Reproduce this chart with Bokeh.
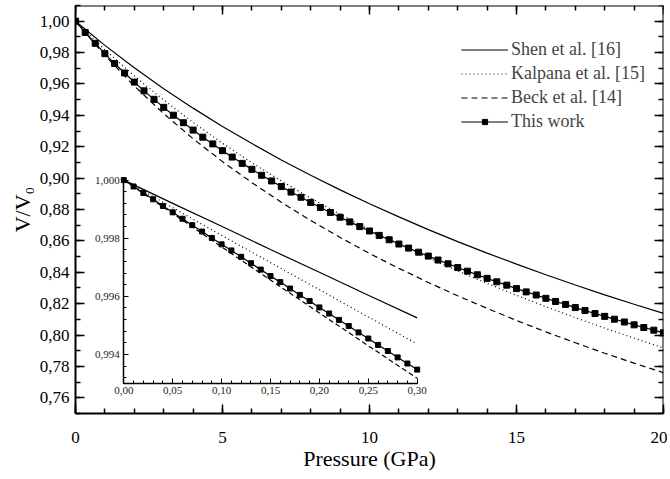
from bokeh.plotting import figure
from bokeh.models import (Range1d, LinearAxis, FixedTicker, CustomJSTickFormatter,
                          Legend, LegendItem)
from bokeh.embed import file_html
from bokeh.resources import INLINE

FONT = "Liberation Serif"

# ---------------- data ----------------
pressure_tw = [0.00, 0.33, 0.67, 1.00, 1.33, 1.67, 2.00, 2.33, 2.67, 3.00, 3.33, 3.67,
               4.00, 4.33, 4.67, 5.00, 5.33, 5.67, 6.00, 6.33, 6.67, 7.00, 7.33, 7.67,
               8.00, 8.33, 8.67, 9.00, 9.33, 9.67, 10.00, 10.33, 10.67, 11.00, 11.33,
               11.67, 12.00, 12.33, 12.67, 13.00, 13.33, 13.67, 14.00, 14.33, 14.67,
               15.00, 15.33, 15.67, 16.00, 16.33, 16.67, 17.00, 17.33, 17.67, 18.00,
               18.33, 18.67, 19.00, 19.33, 19.67, 20.00]
v_this_work = [1.0000, 0.9928, 0.9859, 0.9793, 0.9730, 0.9670, 0.9612, 0.9556, 0.9502,
               0.9451, 0.9401, 0.9353, 0.9306, 0.9261, 0.9218, 0.9175, 0.9134, 0.9094,
               0.9056, 0.9018, 0.8982, 0.8946, 0.8911, 0.8878, 0.8845, 0.8813, 0.8781,
               0.8751, 0.8721, 0.8691, 0.8663, 0.8635, 0.8607, 0.8580, 0.8554, 0.8528,
               0.8503, 0.8478, 0.8454, 0.8430, 0.8407, 0.8384, 0.8361, 0.8339, 0.8318,
               0.8296, 0.8275, 0.8255, 0.8234, 0.8214, 0.8195, 0.8175, 0.8156, 0.8137,
               0.8119, 0.8101, 0.8083, 0.8065, 0.8048, 0.8031, 0.8014]

pressure_lit = [0, 1, 2, 3, 4, 5, 6, 7, 8, 9, 10, 11, 12, 13, 14, 15, 16, 17, 18, 19, 20]
v_shen = [1.0000, 0.9846, 0.9703, 0.9570, 0.9446, 0.9329, 0.9220, 0.9116, 0.9018, 0.8925,
          0.8837, 0.8753, 0.8672, 0.8595, 0.8522, 0.8452, 0.8384, 0.8319, 0.8256, 0.8196,
          0.8138]
v_kalpana = [1.0000, 0.9818, 0.9651, 0.9497, 0.9355, 0.9222, 0.9098, 0.8982, 0.8873,
             0.8770, 0.8672, 0.8580, 0.8492, 0.8409, 0.8329, 0.8253, 0.8181, 0.8111,
             0.8044, 0.7980, 0.7918]
v_beck = [1.0000, 0.9782, 0.9587, 0.9411, 0.9251, 0.9105, 0.8971, 0.8846, 0.8730, 0.8622,
          0.8520, 0.8425, 0.8335, 0.8250, 0.8170, 0.8093, 0.8020, 0.7951, 0.7884, 0.7821,
          0.7760]

# inset (low pressure)
pressure_in_tw = [0.00, 0.01, 0.02, 0.03, 0.04, 0.05, 0.06, 0.07, 0.08, 0.09, 0.10, 0.11,
                  0.12, 0.13, 0.14, 0.15, 0.16, 0.17, 0.18, 0.19, 0.20, 0.21, 0.22, 0.23,
                  0.24, 0.25, 0.26, 0.27, 0.28, 0.29, 0.30]
v_in_this_work = [1.00000, 0.99978, 0.99956, 0.99934, 0.99911, 0.99889, 0.99867, 0.99845,
                  0.99823, 0.99801, 0.99779, 0.99758, 0.99736, 0.99714, 0.99692, 0.99670,
                  0.99649, 0.99627, 0.99605, 0.99584, 0.99562, 0.99541, 0.99519, 0.99498,
                  0.99476, 0.99455, 0.99433, 0.99412, 0.99390, 0.99369, 0.99348]
pressure_in_lit = [0.00, 0.05, 0.10, 0.15, 0.20, 0.25, 0.30]
v_in_shen = [1.00000, 0.99920, 0.99841, 0.99761, 0.99683, 0.99604, 0.99526]
v_in_kalpana = [1.00000, 0.99905, 0.99810, 0.99716, 0.99623, 0.99529, 0.99436]
v_in_beck = [1.00000, 0.99885, 0.99770, 0.99656, 0.99543, 0.99430, 0.99318]

# ticks
x_major = [0, 5, 10, 15, 20]
x_minor = [0, 1, 2, 3, 4, 5, 6, 7, 8, 9, 10, 11, 12, 13, 14, 15, 16, 17, 18, 19, 20]
y_major = [0.76, 0.78, 0.80, 0.82, 0.84, 0.86, 0.88, 0.90, 0.92, 0.94, 0.96, 0.98, 1.00]
y_minor = [0.75, 0.76, 0.77, 0.78, 0.79, 0.80, 0.81, 0.82, 0.83, 0.84, 0.85, 0.86, 0.87,
           0.88, 0.89, 0.90, 0.91, 0.92, 0.93, 0.94, 0.95, 0.96, 0.97, 0.98, 0.99, 1.00,
           1.01]
in_x_major = [0.00, 0.05, 0.10, 0.15, 0.20, 0.25, 0.30]
in_x_minor = pressure_in_tw
in_y_major = [0.994, 0.996, 0.998, 1.000]
in_y_minor = [0.9932, 0.9936, 0.9940, 0.9944, 0.9948, 0.9952, 0.9956, 0.9960, 0.9964,
              0.9968, 0.9972, 0.9976, 0.9980, 0.9984, 0.9988, 0.9992, 0.9996, 1.0000]

legend_labels = ["Shen et al. [16]", "Kalpana et al. [15]", "Beck et al. [14]", "This work"]

# ---------------- figure ----------------
p = figure(frame_width=588, frame_height=408,
           x_range=Range1d(0, 20), y_range=Range1d(0.75, 1.01),
           output_backend="svg", toolbar_location=None,
           min_border_left=75, min_border_right=4, min_border_top=5, min_border_bottom=10,
           x_axis_label="Pressure (GPa)", y_axis_label="V/V₀")
p.grid.visible = False
p.outline_line_color = None
p.background_fill_color = "white"

p.extra_x_ranges = {"ix": Range1d(-0.04939, 0.55184)}
p.extra_y_ranges = {"iy": Range1d(0.991970, 1.006007)}

xa = p.xaxis[0]
ya = p.yaxis[0]

comma2 = "return tick.toFixed(2).replace('.', ',');"
comma3 = "return tick.toFixed(3).replace('.', ',');"


def style_main(ax):
    ax.axis_line_width = 2
    ax.major_tick_in = 9
    ax.major_tick_out = 0
    ax.minor_tick_in = 5
    ax.minor_tick_out = 0
    ax.major_tick_line_width = 1.5
    ax.minor_tick_line_width = 1.5
    ax.major_label_text_font = FONT
    ax.major_label_text_font_size = "17px"
    ax.major_label_text_color = "black"
    ax.axis_label_text_font = FONT
    ax.axis_label_text_font_size = "22px"
    ax.axis_label_text_font_style = "normal"
    ax.axis_label_text_color = "black"


style_main(xa)
style_main(ya)
xa.ticker = FixedTicker(ticks=x_major, minor_ticks=x_minor)
ya.ticker = FixedTicker(ticks=y_major, minor_ticks=y_minor)
ya.formatter = CustomJSTickFormatter(code=comma2)
xa.major_label_standoff = 18
xa.axis_label_standoff = 0
ya.major_label_standoff = 6
ya.axis_label_standoff = 2

# mirror axes (top/right)
top_ax = LinearAxis(fixed_location=1.01, ticker=FixedTicker(ticks=x_major, minor_ticks=x_minor))
right_ax = LinearAxis(fixed_location=20, ticker=FixedTicker(ticks=y_major, minor_ticks=y_minor))
for ax in (top_ax, right_ax):
    style_main(ax)
    ax.major_label_text_color = None
p.add_layout(top_ax, "above")
p.add_layout(right_ax, "right")

# ---------------- main curves ----------------
r_shen = p.line(pressure_lit, v_shen, line_color="black", line_width=1.2)
r_kal = p.line(pressure_lit, v_kalpana, line_color="black", line_width=1.2, line_dash="1 3")
r_beck = p.line(pressure_lit, v_beck, line_color="black", line_width=1.2, line_dash="6 4")
r_twl = p.line(pressure_tw, v_this_work, line_color="black", line_width=1.2)
r_tws = p.scatter(pressure_tw, v_this_work, marker="square", size=6, color="black")

# ---------------- inset ----------------
kw = dict(x_range_name="ix", y_range_name="iy")
p.line(pressure_in_lit, v_in_shen, line_color="black", line_width=1.2, **kw)
p.line(pressure_in_lit, v_in_kalpana, line_color="black", line_width=1.2, line_dash="1 3", **kw)
p.line(pressure_in_lit, v_in_beck, line_color="black", line_width=1.2, line_dash="5 3", **kw)
p.line(pressure_in_tw, v_in_this_work, line_color="black", line_width=1.2, **kw)
p.scatter(pressure_in_tw, v_in_this_work, marker="square", size=5, color="black", **kw)

in_xax = LinearAxis(x_range_name="ix", y_range_name="iy", fixed_location=0.993002,
                    bounds=(0.0, 0.30),
                    ticker=FixedTicker(ticks=in_x_major, minor_ticks=in_x_minor),
                    formatter=CustomJSTickFormatter(code=comma2))
in_yax = LinearAxis(x_range_name="ix", y_range_name="iy", fixed_location=0.0,
                    bounds=(0.993002, 1.0),
                    ticker=FixedTicker(ticks=in_y_major, minor_ticks=in_y_minor),
                    formatter=CustomJSTickFormatter(code=comma3))
for ax in (in_xax, in_yax):
    ax.axis_line_width = 1.5
    ax.major_tick_in = 5
    ax.major_tick_out = 0
    ax.minor_tick_in = 3
    ax.minor_tick_out = 0
    ax.major_tick_line_width = 1
    ax.minor_tick_line_width = 1
    ax.major_label_text_font = FONT
    ax.major_label_text_font_size = "11px"
    ax.major_label_text_color = "#222222"
in_xax.major_label_standoff = 3
in_yax.major_label_standoff = 4
p.add_layout(in_xax, "below")
p.add_layout(in_yax, "left")

# ---------------- legend ----------------
legend = Legend(items=[LegendItem(label=legend_labels[0], renderers=[r_shen]),
                       LegendItem(label=legend_labels[1], renderers=[r_kal]),
                       LegendItem(label=legend_labels[2], renderers=[r_beck]),
                       LegendItem(label=legend_labels[3], renderers=[r_twl, r_tws])],
                location=(386, 281), glyph_width=47, glyph_height=13, label_height=20,
                spacing=3, padding=0, margin=0, label_standoff=3,
                border_line_color=None, background_fill_alpha=0,
                label_text_font=FONT, label_text_font_size="18px")
p.add_layout(legend)

open("out.html", "w").write(file_html(p, INLINE))
